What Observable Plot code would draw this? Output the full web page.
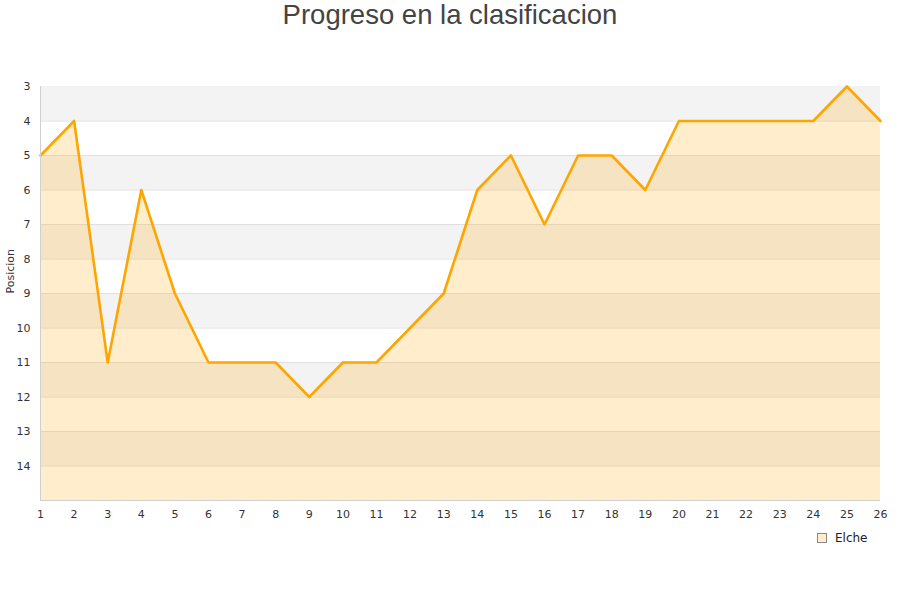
<!DOCTYPE html>
<html><head><meta charset="utf-8">
<script src="https://cdn.jsdelivr.net/npm/d3@7"></script>
<script src="https://cdn.jsdelivr.net/npm/@observablehq/plot@0.6"></script>
<style>
body{margin:0;background:#fff;}
#wrap{position:relative;width:900px;height:600px;}
#title{height:40px;text-align:center;font-family:"Liberation Sans",Arial,sans-serif;font-size:27.5px;color:#444;line-height:30px;}
#legend{position:absolute;left:817px;top:531px;font-family:"DejaVu Sans",sans-serif;font-size:12px;color:#222;display:flex;align-items:center;}
#legend span.sw{display:inline-block;width:8px;height:8px;background:#ffedcc;border:1px solid #888;margin-right:8px;}
</style></head>
<body><div id="wrap"><div id="title">Progreso en la clasificacion</div><div id="chart"></div>
<div id="legend"><span class="sw"></span><span>Elche</span></div></div>
<script>
const jornadas = [1,2,3,4,5,6,7,8,9,10,11,12,13,14,15,16,17,18,19,20,21,22,23,24,25,26];
const posicion = [5,4,11,6,9,11,11,11,12,11,11,10,9,6,5,7,5,5,6,4,4,4,4,4,3,4];
const yTicks = [3,4,5,6,7,8,9,10,11,12,13,14];
const bandStarts = [3,5,7,9,11,13];
const data = jornadas.map((j,i)=>({j, p: posicion[i]}));
const chart = Plot.plot({
  width: 900, height: 520,
  marginTop: 46, marginBottom: 60, marginLeft: 40, marginRight: 20,
  style: {fontFamily: '"DejaVu Sans", sans-serif', fontSize: "11px", color: "#333", background: "#fff"},
  x: {domain: [1,26], ticks: jornadas, tickSize: 0, tickPadding: 10, tickFormat: d=>String(d), label: null},
  y: {domain: [3,15], reverse: true, ticks: yTicks, tickSize: 0, tickPadding: 10, tickFormat: d=>String(d), label: null},
  marks: [
    Plot.rect(bandStarts, {x1: 1, x2: 26, y1: d=>d, y2: d=>d+1, fill: "#f3f3f3"}),
    Plot.ruleY(yTicks.slice(1), {stroke: "#e0e0e0"}),
    Plot.areaY(data, {x: "j", y1: 15, y2: "p", fill: "#ffa500", fillOpacity: 0.2}),
    Plot.lineY(data, {x: "j", y: "p", stroke: "#ffa500", strokeWidth: 2.6}),
    Plot.ruleX([1], {stroke: "#d0d0d0"}),
    Plot.ruleY([15], {stroke: "#d0d0d0"}),
    Plot.text(["Posicion"], {frameAnchor: "left", dx: -30, rotate: -90, fontSize: 11, fill: "#333"})
  ]
});
document.getElementById("chart").appendChild(chart);
</script></body></html>
